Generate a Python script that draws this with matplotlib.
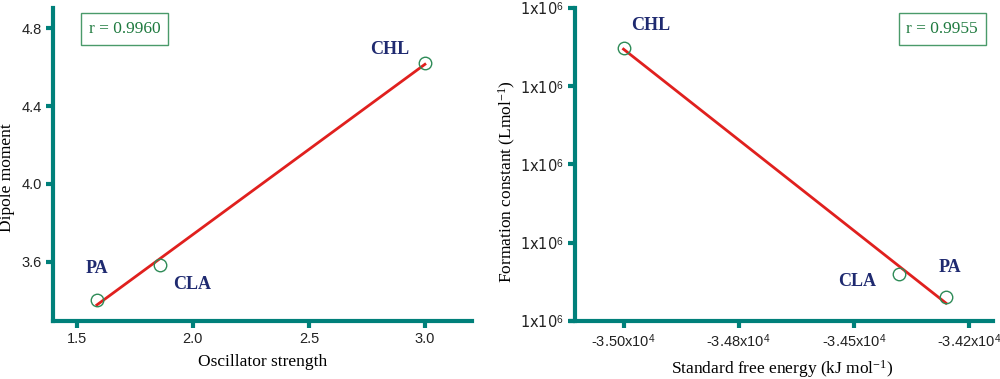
import numpy as np
import matplotlib
matplotlib.use("Agg")
import matplotlib.pyplot as plt

# left panel: oscillator strength vs dipole moment
compounds = ["PA", "CLA", "CHL"]
osc_strength = [1.586, 1.858, 3.0]
dipole = [3.405, 3.585, 4.62]
r_left = "r = 0.9960"

# right panel: standard free energy vs formation constant (axis in tick units)
free_energy = [-34300, -34401, -35000]
formation = [0.308, 0.603, 3.487]
r_right = "r = 0.9955"
x_ticks_right = [-35000, -34750, -34500, -34250]
x_ticklabels_right = ["-3.50x10$^{\\mathsf{4}}$", "-3.48x10$^{\\mathsf{4}}$",
                      "-3.45x10$^{\\mathsf{4}}$", "-3.42x10$^{\\mathsf{4}}$"]
y_ticks_right = [0, 1, 2, 3, 4]
y_ticklabels_right = ["1x10$^{\\mathsf{6}}$"] * 5

teal = "#00807a"
red = "#e0201e"
green = "#2e8b57"
navy = "#1f2a70"
serif = "Liberation Serif"
sans = "Liberation Sans"

plt.rcParams["mathtext.fontset"] = "custom"
plt.rcParams["mathtext.rm"] = serif
plt.rcParams["mathtext.sf"] = sans
plt.rcParams["mathtext.it"] = serif + ":italic"

fig = plt.figure(figsize=(10, 3.79), dpi=100)
axL = fig.add_axes([0.053, 0.153, 0.419, 0.826])
axR = fig.add_axes([0.571, 0.153, 0.422, 0.826])


def style(ax):
    for s in ["top", "right"]:
        ax.spines[s].set_visible(False)
    for s in ["left", "bottom"]:
        ax.spines[s].set_color(teal)
        ax.spines[s].set_linewidth(3)
    ax.tick_params(color=teal, width=3, length=5, direction="out",
                   labelsize=10.5, labelcolor="#222222", pad=3)
    for lab in ax.get_xticklabels() + ax.get_yticklabels():
        lab.set_fontfamily(sans)


def fit_line(ax, x, y):
    k, b = np.polyfit(x, y, 1)
    xs = np.array([min(x), max(x)])
    ax.plot(xs, k * xs + b, color=red, lw=2, zorder=2)
    ax.plot(x, y, "o", mfc="none", mec=green, ms=9, mew=1, zorder=3)


def r_box(ax, txt, x, y):
    ax.text(x, y, txt, transform=ax.transAxes, fontsize=12.5, family=serif,
            color="#1f7a3f", ha="left", va="center",
            bbox=dict(boxstyle="square,pad=0.45", fc="white", ec="#4a9a6a", lw=1))


# left
fit_line(axL, osc_strength, dipole)
axL.set_xlim(1.397, 3.203)
axL.set_ylim(3.297, 4.903)
axL.set_xticks([1.5, 2.0, 2.5, 3.0])
axL.set_yticks([3.6, 4.0, 4.4, 4.8])
style(axL)
axL.set_xlabel("Oscillator strength", family=serif, fontsize=12.5, labelpad=6)
axL.set_ylabel("Dipole moment", family=serif, fontsize=12.5, labelpad=2)
axL.yaxis.set_label_coords(-0.09, 0.457)
lab_off_L = [(0.0, 0.16), (0.14, -0.1), (-0.15, 0.07)]
for name, x, y, (dx, dy) in zip(compounds, osc_strength, dipole, lab_off_L):
    axL.text(x + dx, y + dy, name, family=serif, weight="bold", fontsize=13,
             color=navy, ha="center", va="center")
r_box(axL, r_left, 0.086, 0.933)

# right
fit_line(axR, free_energy, formation)
axR.set_xlim(-35114, -34198)
axR.set_ylim(0, 4)
axR.set_xticks(x_ticks_right)
axR.set_xticklabels(x_ticklabels_right)
axR.set_yticks(y_ticks_right)
axR.set_yticklabels(y_ticklabels_right)
style(axR)
axR.spines["left"].set_position(("outward", -3))
axR.set_xlabel("Standard free energy (kJ mol$^{\\mathrm{-1}}$)", family=serif,
               fontsize=12.5, labelpad=6)
axR.set_ylabel("Formation constant (Lmol$^{\\mathrm{-1}}$)", family=serif,
               fontsize=12.5, labelpad=2)
axR.yaxis.set_label_coords(-0.125, 0.447)
lab_off_R = [(9, 0.37), (-93, -0.1), (58, 0.29)]
for name, x, y, (dx, dy) in zip(compounds, free_energy, formation, lab_off_R):
    axR.text(x + dx, y + dy, name, family=serif, weight="bold", fontsize=13,
             color=navy, ha="center", va="center")
r_box(axR, r_right, 0.795, 0.933)

fig.savefig("out.png", dpi=100)
